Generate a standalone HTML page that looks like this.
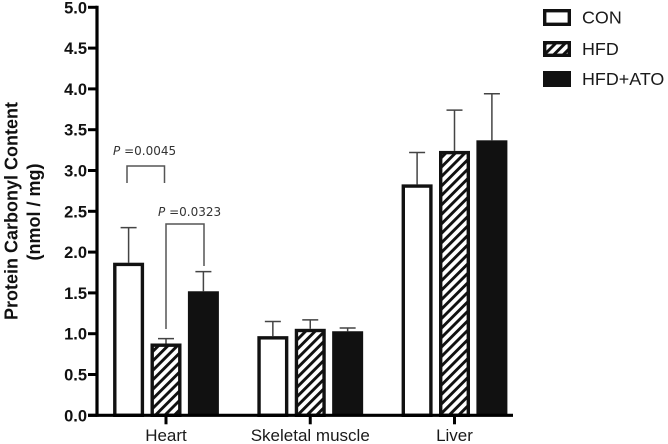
<!DOCTYPE html>
<html lang="en">
<head>
<meta charset="utf-8">
<title>Protein Carbonyl Content</title>
<style>
html,body{margin:0;padding:0;background:#fff;}
body{width:668px;height:444px;overflow:hidden;}
svg{display:block;font-family:"Liberation Sans",Arial,sans-serif;filter:blur(0.35px);}
</style>
</head>
<body>
<svg id="chart" xmlns="http://www.w3.org/2000/svg" width="668" height="444" viewBox="0 0 668 444">
  <defs>
    <pattern id="hatch" patternUnits="userSpaceOnUse" width="6.7" height="6.7" patternTransform="rotate(45)">
      <rect width="6.7" height="6.7" fill="#fff"></rect>
      <rect x="0" width="2.9" height="6.7" fill="#111"></rect>
    </pattern>
  </defs>
  <g id="bars"></g>
  <g id="axes"></g>
  <g font-weight="bold" font-size="18" fill="#111" text-anchor="middle">
    <text transform="translate(17.5,211) rotate(-90)">Protein Carbonyl Content</text>
    <text transform="translate(40,212) rotate(-90)">(nmol / mg)</text>
  </g>
  <g>
    <path d="M127 183V166H164.5V183" fill="none" stroke="#555" stroke-width="1.5"></path>
    <text x="113" y="155" font-size="12" fill="#333" style="font-family:'DejaVu Sans',sans-serif"><tspan font-style="italic">P</tspan> =0.0045</text>
  </g>
  <g>
    <path d="M166 329V224H204V266" fill="none" stroke="#555" stroke-width="1.5"></path>
    <text x="158" y="216" font-size="12" fill="#333" style="font-family:'DejaVu Sans',sans-serif"><tspan font-style="italic">P</tspan> =0.0323</text>
  </g>
  <g font-size="17.9" fill="#1a1a1a">
    <g>
      <rect x="544.7" y="10.7" width="24.6" height="13.6" fill="#fff" stroke="#111" stroke-width="3.4"></rect>
      <text x="582" y="23.5">CON</text>
    </g>
    <g>
      <rect x="544.7" y="42.7" width="24.6" height="12.6" fill="url(#hatch)" stroke="#111" stroke-width="3.4"></rect>
      <text x="582" y="55">HFD</text>
    </g>
    <g>
      <rect x="543" y="71" width="28" height="16" fill="#111"></rect>
      <text x="582" y="85">HFD+ATO</text>
    </g>
  </g>
</svg>
<script>
const categories = ['Heart', 'Skeletal muscle', 'Liver'];
const seriesNames = ['CON', 'HFD', 'HFD+ATO'];
const conValues = [1.87, 0.97, 2.83];
const hfdValues = [0.88, 1.06, 3.24];
const atoValues = [1.52, 1.03, 3.37];
const conErrors = [0.43, 0.18, 0.39];
const hfdErrors = [0.06, 0.11, 0.50];
const atoErrors = [0.24, 0.04, 0.57];
const yTickLabels = ['0.0', '0.5', '1.0', '1.5', '2.0', '2.5', '3.0', '3.5', '4.0', '4.5', '5.0'];

const NS = 'http://www.w3.org/2000/svg';
const seriesValues = [conValues, hfdValues, atoValues];
const seriesErrors = [conErrors, hfdErrors, atoErrors];
const barsGroup = document.getElementById('bars');
const axesGroup = document.getElementById('axes');

function yScale(v) {
  return 415.3 - v * (408 / 5);
}
function groupCenter(i) {
  return 166 + i * 144.25;
}
function barCenter(i, s) {
  return groupCenter(i) + (s - 1) * 37.4;
}
function make(tag, attrs, parent) {
  const el = document.createElementNS(NS, tag);
  Object.keys(attrs).forEach(function (k) { el.setAttribute(k, attrs[k]); });
  parent.appendChild(el);
  return el;
}

const barWidth = 31;
const barStroke = 3.4;
categories.forEach(function (cat, i) {
  seriesNames.forEach(function (name, s) {
    const cx = barCenter(i, s);
    const value = seriesValues[s][i];
    const top = yScale(value);
    const errTop = yScale(value + seriesErrors[s][i]);
    const slug = cat.toLowerCase().replace(/ /g, '-') + '-' + name.toLowerCase().replace('+', '-');

    const err = make('path', {
      d: 'M' + cx + ' ' + top + 'V' + errTop + 'M' + (cx - 8) + ' ' + errTop + 'H' + (cx + 8),
      fill: 'none', stroke: '#444', 'stroke-width': 1.5
    }, barsGroup);
    
    

    const attrs = s === 2
      ? { x: cx - barWidth / 2, y: top, width: barWidth, height: yScale(0) - top, fill: '#111' }
      : {
          x: cx - barWidth / 2 + barStroke / 2,
          y: top + barStroke / 2,
          width: barWidth - barStroke,
          height: yScale(0) - top - barStroke / 2,
          fill: s === 0 ? '#fff' : 'url(#hatch)',
          stroke: '#111',
          'stroke-width': barStroke
        };
    const bar = make('rect', attrs, barsGroup);
    
    
  });
});

const yAxis = make('line', { x1: 97, x2: 97, y1: yScale(5) - 1.5, y2: yScale(0) + 1.5, stroke: '#000', 'stroke-width': 3.2 }, axesGroup);



const xAxis = make('line', { x1: 88, x2: 513, y1: yScale(0), y2: yScale(0), stroke: '#000', 'stroke-width': 3.2 }, axesGroup);



yTickLabels.forEach(function (label) {
  const y = yScale(parseFloat(label));
  const tick = make('line', { x1: 88, x2: 97, y1: y, y2: y, stroke: '#000', 'stroke-width': 3 }, axesGroup);
  
  
  const text = make('text', { x: 87, y: y + 6, 'text-anchor': 'end', 'font-size': 16.5, 'font-weight': 'bold', fill: '#111' }, axesGroup);
  text.textContent = label;
  
  
});

categories.forEach(function (cat, i) {
  const x = groupCenter(i);
  const tick = make('line', { x1: x, x2: x, y1: yScale(0), y2: yScale(0) + 9, stroke: '#000', 'stroke-width': 3 }, axesGroup);
  
  
  const text = make('text', { x: x, y: 441, 'text-anchor': 'middle', 'font-size': 17, fill: '#1a1a1a' }, axesGroup);
  text.textContent = cat;
  
  
});
</script>
</body>
</html>
